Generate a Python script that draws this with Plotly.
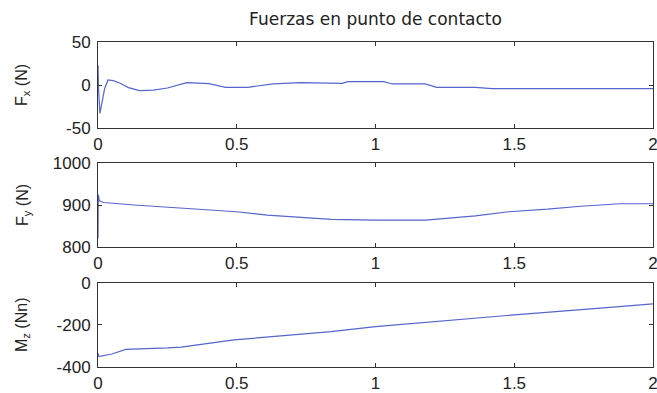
import plotly.graph_objects as go
from plotly.subplots import make_subplots

title = "Fuerzas en punto de contacto"

fx_t = [0.0, 0.002, 0.007, 0.014, 0.024, 0.036, 0.055, 0.08, 0.11, 0.15, 0.2, 0.25, 0.32, 0.4, 0.46, 0.54, 0.63, 0.73, 0.84, 0.88, 0.9, 1.03, 1.06, 1.18, 1.22, 1.36, 1.42, 2.0]
fx_v = [23, -5, -33, -22, -4, 5.8, 5, 2, -3, -6.6, -6, -3.5, 2.7, 1.5, -2.7, -2.7, 1.2, 2.7, 2.7, 2, 3.9, 3.9, 1.2, 1.2, -2.7, -2.7, -4.3, -4.3]

fy_t = [0.0, 0.001, 0.005, 0.02, 0.13, 0.37, 0.5, 0.61, 0.84, 1.0, 1.18, 1.36, 1.48, 1.62, 1.74, 1.88, 2.0]
fy_v = [820, 925, 910, 906, 900, 890, 884, 876, 866, 864, 864, 874, 884, 890, 897, 903, 903]

mz_t = [0.0, 0.003, 0.05, 0.1, 0.25, 0.3, 0.49, 0.84, 1.0, 1.3, 1.5, 1.81, 2.0]
mz_v = [-335, -350, -338, -316, -309, -305, -271, -232, -208, -174, -152, -120, -99]

x_ticks = [0, 0.5, 1, 1.5, 2]
x_tick_labels = ["0", "0.5", "1", "1.5", "2"]
y_ticks = [[-50, 0, 50], [800, 900, 1000], [-400, -200, 0]]
y_tick_labels = [["-50", "0", "50"], ["800", "900", "1000"], ["-400", "-200", "0"]]
y_ranges = [[-50, 50], [800, 1000], [-400, 0]]
y_titles = ["F<sub>x</sub> (N)", "F<sub>y</sub> (N)", "M<sub>z</sub> (Nn)"]

series = [(fx_t, fx_v), (fy_t, fy_v), (mz_t, mz_v)]

fig = make_subplots(rows=3, cols=1)
FONT = "Liberation Sans, Arial, sans-serif"
AX = "#333333"
TXT = "#222222"
domains = [[0.7354, 1.0], [0.3692, 0.6277], [0.0, 0.2585]]

for i, (t, v) in enumerate(series):
    r = i + 1
    fig.add_trace(go.Scatter(x=t, y=v, mode="lines",
                             line=dict(color="#5565cc", width=1.2),
                             showlegend=False, hoverinfo="skip"), row=r, col=1)
    fig.update_xaxes(range=[0, 2], tickvals=x_ticks, ticktext=x_tick_labels,
                     ticks="inside", ticklen=4, tickcolor=AX,
                     showline=True, linecolor=AX, linewidth=1, mirror="allticks",
                     showgrid=False, zeroline=False, automargin=False,
                     ticklabelstandoff=1, ticklabeloverflow="allow",
                     tickfont=dict(family=FONT, size=17, color=TXT),
                     row=r, col=1)
    fig.update_yaxes(range=y_ranges[i], tickvals=y_ticks[i], ticktext=y_tick_labels[i],
                     ticks="inside", ticklen=4, tickcolor=AX,
                     showline=True, linecolor=AX, linewidth=1, mirror="allticks",
                     showgrid=False, zeroline=False, domain=domains[i],
                     automargin=False, ticklabelstandoff=3, ticklabeloverflow="allow",
                     tickfont=dict(family=FONT, size=17, color=TXT),
                     row=r, col=1)
    d = domains[i]
    fig.add_annotation(text=y_titles[i], textangle=-90,
                       xref="paper", yref="paper",
                       x=(23 - 98) / 555, y=(d[0] + d[1]) / 2,
                       xanchor="center", yanchor="middle", showarrow=False,
                       font=dict(family=FONT, size=16, color=TXT))

fig.update_layout(
    width=657, height=393,
    margin=dict(l=98, r=4, t=42, b=26),
    paper_bgcolor="white", plot_bgcolor="white",
    title=dict(text=title, x=0.5, xanchor="center", xref="paper",
               y=1 - 19 / 393, yanchor="middle",
               font=dict(family="DejaVu Sans, sans-serif", size=17, color=TXT)),
)

fig.write_html("out.html", config={"displayModeBar": False},
               post_script="document.body.style.margin='0';document.body.style.overflow='hidden';")
